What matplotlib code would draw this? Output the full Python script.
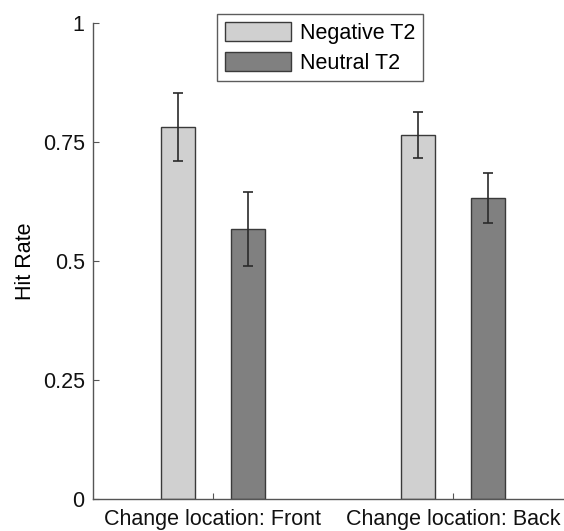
import numpy as np
import matplotlib
matplotlib.use('Agg')
import matplotlib.pyplot as plt

plt.rcParams['font.family'] = ['Liberation Sans', 'DejaVu Sans']

# data
groups = ['Change location: Front', 'Change location: Back']
negative = [0.782, 0.765]
negative_err = [0.071, 0.048]
neutral = [0.567, 0.632]
neutral_err = [0.078, 0.052]
series = ['Negative T2', 'Neutral T2']
yticks = [0, 0.25, 0.5, 0.75, 1]
ytick_labels = ['0', '0.25', '0.5', '0.75', '1']

fig = plt.figure(figsize=(5.64, 5.31), dpi=100)
ax = fig.add_axes([93/564, 32/531, 471/564, 476/531])

x = np.arange(1, len(groups) + 1)
off = 0.144
w = 0.142
edge = '#3a3a3a'
ebar = dict(ecolor='#2a2a2a', elinewidth=1.2, capsize=3.5, capthick=1.2)

ax.bar(x - off, negative, w, yerr=negative_err, color='#d0d0d0',
       edgecolor=edge, linewidth=1.0, label=series[0], error_kw=ebar)
ax.bar(x + off, neutral, w, yerr=neutral_err, color='#808080',
       edgecolor=edge, linewidth=1.0, label=series[1], error_kw=ebar)

ax.set_xlim(0.5, 0.5 + 471/240)
ax.set_ylim(0, 1)
ax.set_xticks(x)
ax.set_xticklabels(groups)
ax.set_yticks(yticks)
ax.set_yticklabels(ytick_labels)
ax.set_ylabel('Hit Rate', fontsize=15.5, labelpad=5)

for s in ['top', 'right']:
    ax.spines[s].set_visible(False)
for s in ['left', 'bottom']:
    ax.spines[s].set_color('#555555')
    ax.spines[s].set_linewidth(1.0)
ax.tick_params(direction='in', length=4, color='#555555', labelsize=15.5,
               labelcolor='#111111')
ax.tick_params(axis='x', pad=7)
ax.tick_params(axis='y', pad=6)

leg = ax.legend(loc='upper left', bbox_to_anchor=((217-93)/471, 1 + 9/476),
                fontsize=15.5, frameon=True, fancybox=False,
                handlelength=3.1, handleheight=1.0, borderpad=0.35,
                labelspacing=0.37, handletextpad=0.4, borderaxespad=0)
leg.get_frame().set_edgecolor('#333333')
leg.get_frame().set_linewidth(1.0)

fig.savefig('out.png', dpi=100)
